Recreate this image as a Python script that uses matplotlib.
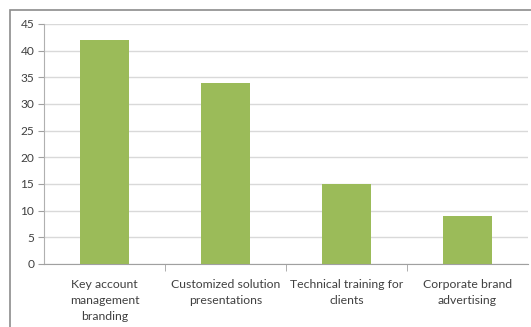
import matplotlib
matplotlib.use("Agg")
import matplotlib.pyplot as plt
from matplotlib.patches import Rectangle

categories = ["Key account\nmanagement\nbranding",
              "Customized solution\npresentations",
              "Technical training for\nclients",
              "Corporate brand\nadvertising"]
values = [42, 34, 15, 9]
yticks = [0, 5, 10, 15, 20, 25, 30, 35, 40, 45]

plt.rcParams['font.family'] = ['Lato', 'DejaVu Sans']

W, H = 531, 327
fig = plt.figure(figsize=(W / 100, H / 100), dpi=100)
fig.patch.set_facecolor("white")

# outer chart frame
fig.add_artist(Rectangle((10 / W, -0.1), 1.2, (H - 10) / H + 0.1,
                         transform=fig.transFigure, fill=False,
                         edgecolor="#8c8c8c", linewidth=1.2))

ax = fig.add_axes([44 / W, (H - 264) / H, (528 - 44) / W, (264 - 24) / H])
x = list(range(len(categories)))
ax.bar(x, values, width=0.4, color="#9bbb59", zorder=3)

ax.set_xlim(-0.5, len(categories) - 0.5)
ax.set_ylim(0, 45)
ax.set_yticks(yticks)
ax.set_yticklabels([str(v) for v in yticks], fontsize=8.6, color="#404040")
ax.yaxis.grid(True, color="#d9d9d9", linewidth=1, zorder=0)
ax.tick_params(axis="y", length=4, color="#a0a0a0", pad=3)

ax.set_xticks(x)
ax.set_xticklabels(categories, fontsize=8.8, color="#404040", linespacing=1.55)
ax.tick_params(axis="x", length=0, pad=11)
ax.set_xticks([i + 0.5 for i in range(len(categories) - 1)], minor=True)
ax.tick_params(axis="x", which="minor", length=5, color="#a0a0a0")

for s in ["top", "right"]:
    ax.spines[s].set_visible(False)
ax.spines["left"].set_color("#b0b0b0")
ax.spines["bottom"].set_color("#a0a0a0")

fig.savefig("out.png", dpi=100)
